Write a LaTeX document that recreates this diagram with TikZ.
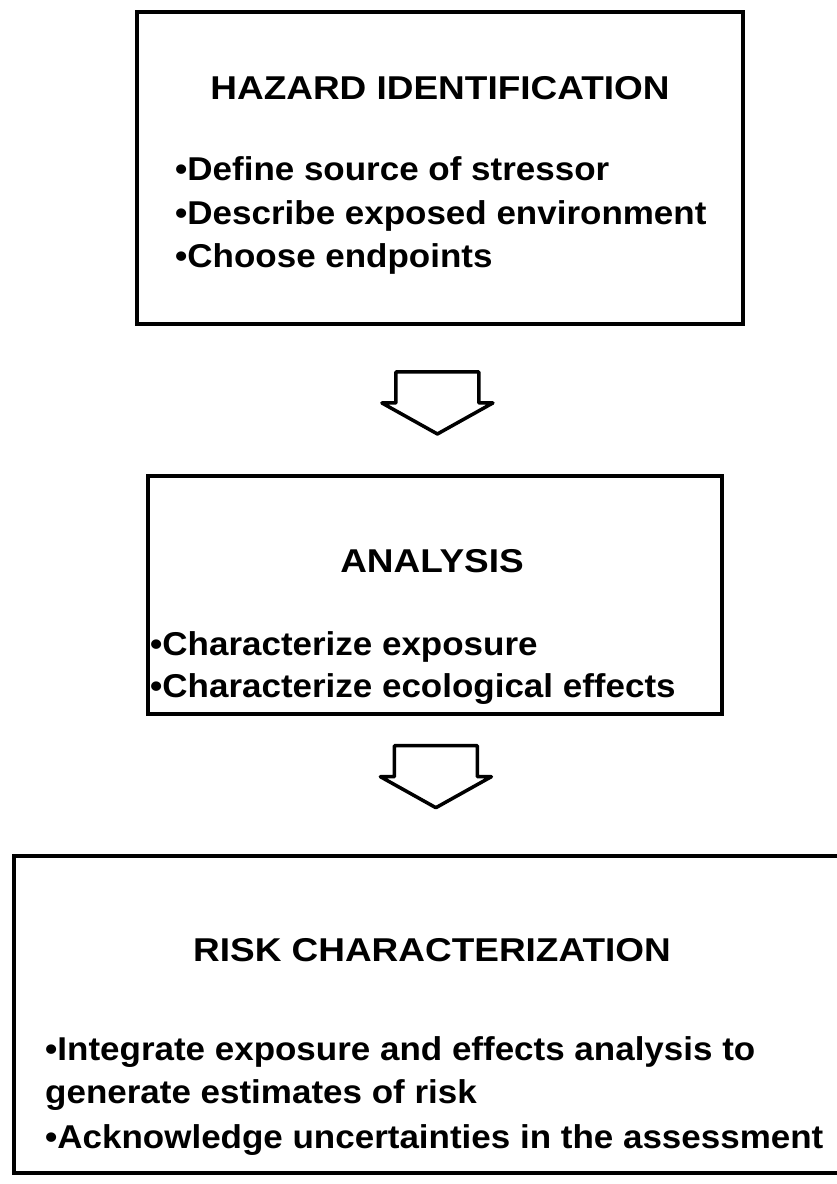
\documentclass[tikz,border=0pt]{standalone}
\usepackage{fontspec}
\setmainfont[FakeStretch=1.06]{Liberation Sans}
\newfontfamily\titlefont[FakeStretch=1.12]{Liberation Sans}
\usetikzlibrary{calc}

\newcommand{\boxfont}{\fontsize{33}{40}\selectfont\bfseries}

\begin{document}
\begin{tikzpicture}[x=1pt,y=-1pt,
  stage/.style={draw,line width=3.5pt,inner sep=0pt},
  heading/.style={anchor=base,inner sep=0pt,font=\titlefont\boxfont},
  item/.style={anchor=base west,inner sep=0pt,font=\boxfont},
  flow/.pic={\draw[line width=3.5pt,line join=round]
    (-41.5,-31) -- (41.5,-31) -- (41.5,0) -- (55.5,0) -- (0,31)
    -- (-55.5,0) -- (-41.5,0) -- cycle;}]

  \useasboundingbox (0,0) rectangle (837,1184);
  \clip (0,0) rectangle (837,1184);

  % boxes
  \node[stage,minimum width=606pt,minimum height=312pt] (hazard) at (440,168) {};
  \node[stage,minimum width=574pt,minimum height=238pt] (analysis) at (435,595) {};
  \node[stage,minimum width=846pt,minimum height=317pt] (risk) at (437,1014.5) {};

  % hazard identification
  \node[heading] (hazardtitle) at (440,99) {HAZARD IDENTIFICATION};
  \node[item] (h1) at (175,180) {•Define source of stressor};
  \node[item] (h2) at (175,224) {•Describe exposed environment};
  \node[item] (h3) at (175,267) {•Choose endpoints};

  % analysis
  \node[heading] (analysistitle) at (432,572) {ANALYSIS};
  \node[item] (a1) at (150,655) {•Characterize exposure};
  \node[item] (a2) at (150,697) {•Characterize ecological effects};

  % risk characterization
  \node[heading] (risktitle) at (432,961) {RISK CHARACTERIZATION};
  \node[item] (r1) at (45,1060) {•Integrate exposure and effects analysis to};
  \node[item] (r2) at (45,1103) {generate estimates of risk};
  \node[item] (r3) at (45,1148) {•Acknowledge uncertainties in the assessment};

  \pic at ($(hazard.south)!.52!(analysis.north)$) {flow};
  \pic at ($(analysis.south)!.44!(risk.north)$) {flow};
\end{tikzpicture}
\end{document}
